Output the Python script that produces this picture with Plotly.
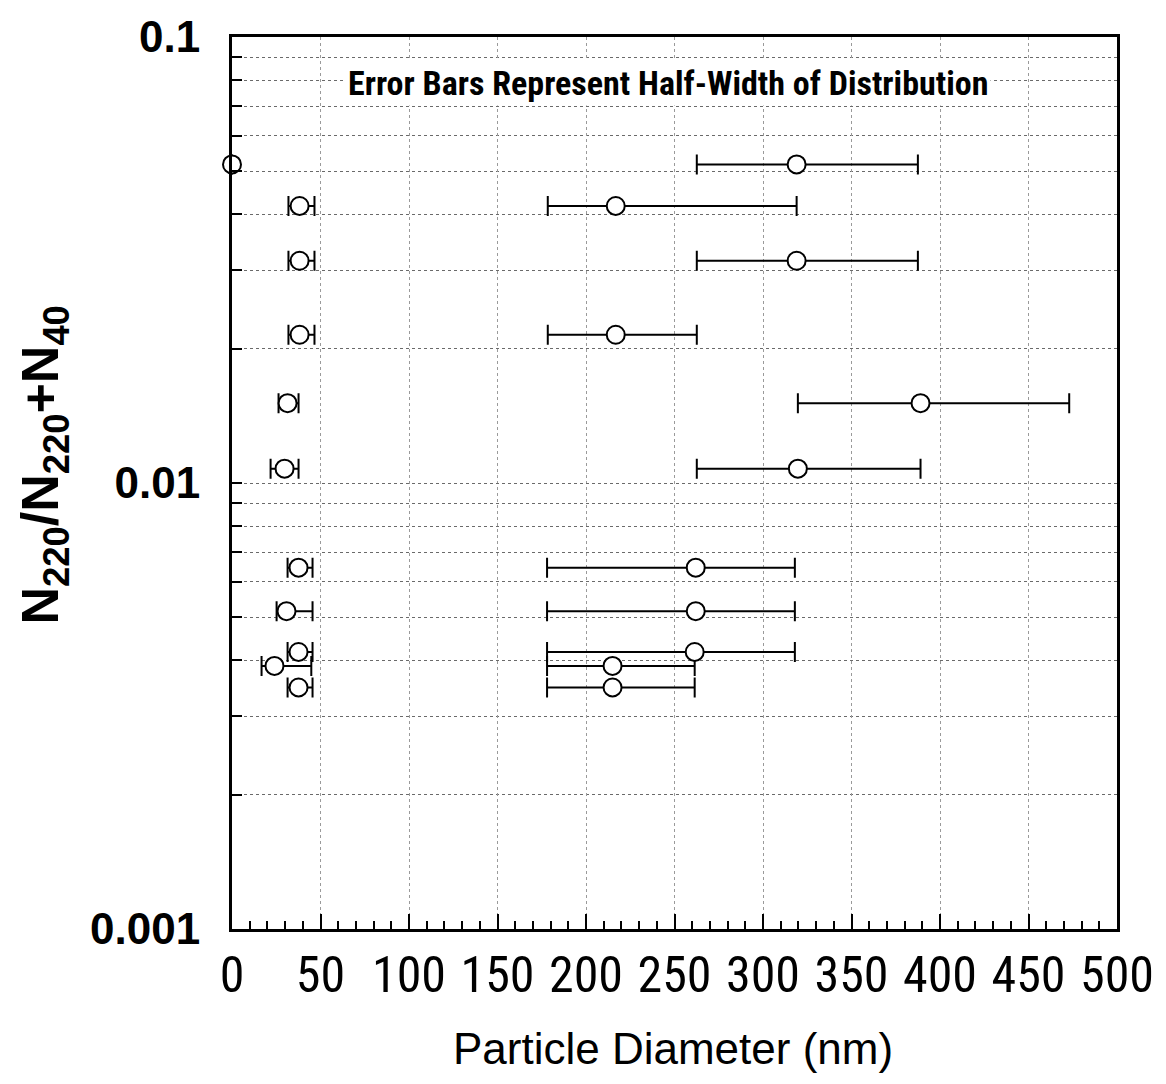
import plotly.graph_objects as go

# ---- data ----
ratio = [0.0518, 0.0418, 0.0315, 0.0215, 0.0151, 0.01077,
         0.00646, 0.00516, 0.00418, 0.00389, 0.00348]

small_d = [0.0, 38.2, 38.2, 38.2, 31.4, 29.7, 37.6, 30.8, 37.6, 24.0, 37.6]
small_lo = [0.0, 31.9, 31.9, 31.9, 26.3, 21.8, 31.4, 25.2, 31.4, 16.7, 31.4]
small_hi = [0.0, 46.6, 46.6, 46.6, 37.6, 37.6, 45.5, 45.5, 45.5, 44.8, 45.5]

large_d = [319.0, 216.8, 319.0, 216.8, 389.0, 319.7, 262.0, 262.0, 261.4, 215.0, 215.0]
large_lo = [262.6, 178.4, 262.6, 178.4, 319.7, 262.6, 178.0, 178.0, 178.0, 178.0, 178.0]
large_hi = [387.5, 319.0, 387.5, 262.6, 473.0, 389.0, 318.0, 318.0, 318.0, 261.4, 261.4]

x_ticks = [0, 50, 100, 150, 200, 250, 300, 350, 400, 450, 500]
x_tick_labels = [str(v) for v in x_ticks]
y_ticks = [0.001, 0.01, 0.1]
y_tick_labels = ["0.001", "0.01", "0.1"]

marker = dict(symbol="circle", size=18, color="white",
              line=dict(color="black", width=2))


def err(x, lo, hi):
    return dict(type="data", symmetric=False,
                array=[h - v for v, h in zip(x, hi)],
                arrayminus=[v - l for v, l in zip(x, lo)],
                color="black", thickness=2, width=10)


fig = go.Figure()
fig.add_trace(go.Scatter(x=small_d, y=ratio, mode="markers", marker=marker,
                         error_x=err(small_d, small_lo, small_hi),
                         cliponaxis=False, showlegend=False))
fig.add_trace(go.Scatter(x=large_d, y=ratio, mode="markers", marker=marker,
                         error_x=err(large_d, large_lo, large_hi),
                         cliponaxis=False, showlegend=False))

narrow = "Liberation Sans Narrow, Arial Narrow, Roboto Condensed, Liberation Sans, Arial, sans-serif"
sans = "Liberation Sans, Arial, Helvetica, sans-serif"

fig.update_layout(
    width=1166, height=1084,
    margin=dict(l=232, r=49, t=28, b=155),
    paper_bgcolor="white", plot_bgcolor="white",
    xaxis=dict(range=[0, 500], tickvals=x_ticks, ticktext=x_tick_labels,
               ticks="inside", ticklen=15, tickwidth=2, tickcolor="black",
               minor=dict(ticks="inside", ticklen=8, tickwidth=1.5,
                          tickcolor="black", dtick=10, showgrid=False),
               showline=True, linewidth=3, linecolor="black", mirror=True,
               showgrid=True, gridcolor="#9a9a9a", gridwidth=1, griddash="dot",
               zeroline=False, ticklabelstandoff=0,
               tickfont=dict(family=narrow, size=50, color="black")),
    yaxis=dict(type="log", range=[-3, -1], tickvals=y_ticks, ticktext=y_tick_labels,
               ticks="inside", ticklen=10, tickwidth=2, tickcolor="black",
               minor=dict(dtick="D1", ticks="inside", ticklen=10, tickwidth=2,
                          tickcolor="black", showgrid=True, gridcolor="#6a6a6a",
                          gridwidth=1, griddash="dot"),
               showline=True, linewidth=3, linecolor="black", mirror=True,
               showgrid=True, gridcolor="#6a6a6a", gridwidth=1, griddash="dot",
               zeroline=False, ticklabelstandoff=20,
               tickfont=dict(family=sans, size=44, color="black", weight="bold")),
    annotations=[
        dict(text="Error Bars Represent Half-Width of Distribution",
             xref="paper", yref="paper", x=0.4927, y=0.948,
             xanchor="center", yanchor="middle", showarrow=False,
             bgcolor="white", borderpad=2,
             font=dict(family=narrow, size=34, color="black", weight="bold")),
        dict(text="Particle Diameter (nm)",
             xref="paper", yref="paper", x=0.498, y=-0.134,
             xanchor="center", yanchor="middle", showarrow=False,
             font=dict(family=sans, size=44, color="black")),
        dict(text="N<sub>220</sub>/N<sub>220</sub>+N<sub>40</sub>",
             xref="paper", yref="paper", x=-0.212, y=0.52,
             xanchor="center", yanchor="middle", showarrow=False,
             textangle=-90,
             font=dict(family=sans, size=52, color="black", weight="bold")),
    ],
)

fig.write_html("out.html")
